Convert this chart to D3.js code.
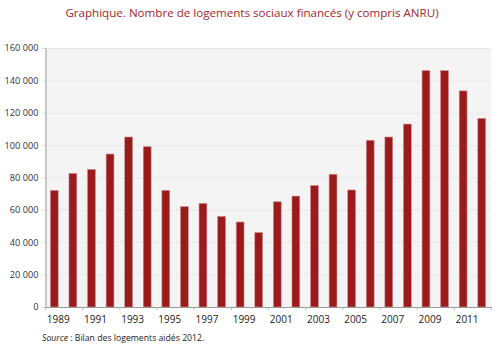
<!DOCTYPE html>
<html>
<head>
<meta charset="utf-8">
<script src="https://cdn.jsdelivr.net/npm/d3@7"></script>
<style>
  html, body { margin: 0; padding: 0; background: #fff; }
  svg { display: block; }
  text { font-family: "Open Sans", "Noto Sans", sans-serif; }
</style>
</head>
<body>
<svg id="chart" width="500" height="348"></svg>
<script>
// Logements sociaux financés par année (y compris ANRU)
const years = [1989, 1990, 1991, 1992, 1993, 1994, 1995, 1996, 1997, 1998, 1999, 2000,
               2001, 2002, 2003, 2004, 2005, 2006, 2007, 2008, 2009, 2010, 2011, 2012];
const logements = [72000, 82500, 85000, 94500, 105000, 99000, 72000, 62000, 64000, 56000, 52500, 46000,
                   65000, 68500, 75000, 82000, 72300, 103000, 105000, 113000, 146000, 146000, 133500, 116500];
const yTicks = [0, 20000, 40000, 60000, 80000, 100000, 120000, 140000, 160000];
const xLabelYears = [1989, 1991, 1993, 1995, 1997, 1999, 2001, 2003, 2005, 2007, 2009, 2011];

const svg = d3.select("#chart");
const plotL = 45, plotR = 491, plotT = 48, plotB = 307;

const x = d3.scaleBand().domain(years).range([plotL, plotR]).paddingInner(0.58).paddingOuter(0.29);
const y = d3.scaleLinear().domain([0, 160000]).range([plotB, plotT]);
const step = x.step();
const fmt = v => d3.format(",")(v).replace(/,/g, " ");

// Title
svg.append("text")
  .attr("x", 252).attr("y", 17)
  .attr("text-anchor", "middle")
  .attr("fill", "#a3262b")
  .style("font-size", "11.6px")
  .text("Graphique. Nombre de logements sociaux financés (y compris ANRU)");

// Plot background
svg.append("rect")
  .attr("x", plotL).attr("y", plotT)
  .attr("width", plotR - plotL).attr("height", plotB - plotT)
  .attr("fill", "#f4f4f4");

// Gridlines
svg.append("g").selectAll("line")
  .data(yTicks.filter(d => d > 0))
  .join("line")
  .attr("x1", plotL).attr("x2", plotR)
  .attr("y1", d => y(d) + 0.5).attr("y2", d => y(d) + 0.5)
  .attr("stroke", "#e9e9e9").attr("stroke-width", 1);

// Bars
svg.append("g").selectAll("rect")
  .data(years.map((yr, i) => ({ yr, v: logements[i] })))
  .join("rect")
  .attr("x", d => x(d.yr))
  .attr("width", x.bandwidth())
  .attr("y", d => y(d.v))
  .attr("height", d => y(0) - y(d.v))
  .attr("fill", "#9b1a1b")
  .attr("stroke", "#c98a8b")
  .attr("stroke-width", 0.6);

// Y axis
const yAxis = svg.append("g")
  .attr("transform", `translate(${plotL + 0.5},0)`)
  .call(d3.axisLeft(y).tickValues(yTicks).tickSize(3).tickFormat(fmt));
yAxis.select(".domain").attr("stroke", "#9a9a9a");
yAxis.selectAll(".tick line").attr("stroke", "#d8d8d8");
yAxis.selectAll(".tick text")
  .attr("x", -7)
  .attr("fill", "#333")
  .style("font-size", "9.2px")
  .style("font-family", "'Open Sans', 'Noto Sans', sans-serif");

// X axis: baseline, ticks at the left edge of odd-year slots, labels under odd years
const xg = svg.append("g");
xg.append("line")
  .attr("x1", plotL).attr("x2", plotR)
  .attr("y1", plotB + 0.5).attr("y2", plotB + 0.5)
  .attr("stroke", "#9a9a9a");
xg.selectAll("line.tk")
  .data(xLabelYears.concat([2013]))
  .join("line")
  .attr("class", "tk")
  .attr("x1", (d, i) => plotL + i * 2 * step + 0.5)
  .attr("x2", (d, i) => plotL + i * 2 * step + 0.5)
  .attr("y1", plotB).attr("y2", plotB + 3)
  .attr("stroke", "#b5b5b5");
xg.selectAll("text")
  .data(xLabelYears)
  .join("text")
  .attr("x", d => x(d) + x.bandwidth() / 2 + 4)
  .attr("y", 323)
  .attr("text-anchor", "middle")
  .attr("fill", "#222")
  .style("font-size", "10px")
  .text(d => d);

// Source
const src = svg.append("text")
  .attr("x", 42).attr("y", 341)
  .attr("fill", "#222")
  .style("font-size", "8.7px");
src.append("tspan").style("font-style", "italic").text("Source");
src.append("tspan").text(" : Bilan des logements aidés 2012.");
</script>
</body>
</html>
